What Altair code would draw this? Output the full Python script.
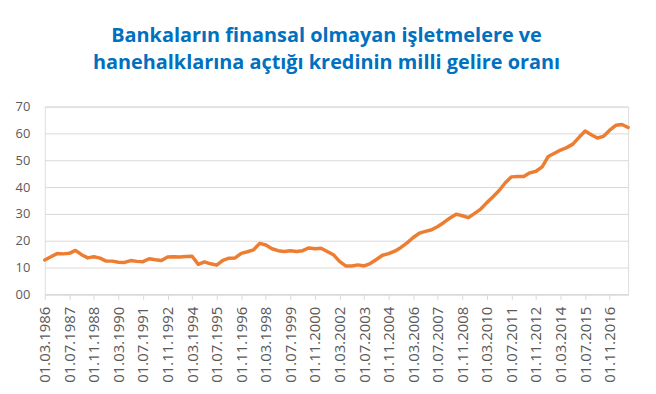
import altair as alt
import pandas as pd

# Quarterly-ish (every 4 months) observations, 01.03.1986 .. 01.11.2017
start_year = 1986
start_month = 3
step_months = 4

ratio = [
    12.8, 14.0, 15.2, 15.1, 15.3, 16.4, 14.8, 13.6, 14.0, 13.5,
    12.4, 12.4, 12.0, 11.9, 12.6, 12.3, 12.2, 13.3, 12.9, 12.6,
    13.9, 14.0, 13.9, 14.1, 14.2, 11.2, 12.1, 11.4, 10.9, 12.7,
    13.5, 13.6, 15.3, 15.9, 16.6, 19.0, 18.4, 17.0, 16.3, 16.0,
    16.3, 16.0, 16.3, 17.3, 17.0, 17.2, 16.0, 14.8, 12.3, 10.6,
    10.6, 11.0, 10.6, 11.5, 13.0, 14.6, 15.2, 16.1, 17.5, 19.2,
    21.2, 22.8, 23.5, 24.1, 25.3, 26.8, 28.5, 29.9, 29.3, 28.6,
    30.2, 31.8, 34.2, 36.4, 38.7, 41.6, 43.8, 43.9, 43.9, 45.3,
    45.9, 47.5, 51.4, 52.6, 53.8, 54.7, 56.0, 58.5, 60.9, 59.5,
    58.3, 58.9, 61.2, 63.0, 63.3, 62.2,
]

dates = []
for i in range(len(ratio)):
    m = start_month - 1 + step_months * i
    dates.append(f"01.{m % 12 + 1:02d}.{start_year + m // 12}")

tick_labels = dates[::4]
y_ticks = [0, 10, 20, 30, 40, 50, 60, 70]

title_lines = [
    "Bankaların finansal olmayan işletmelere ve",
    "hanehalklarına açtığı kredinin milli gelire oranı",
]

df = pd.DataFrame({"tarih": dates, "oran": ratio})

grey_txt = "#595959"
grid = "#d9d9d9"
font = "Open Sans"

chart = (
    alt.Chart(df)
    .mark_line(color="#ED7D31", strokeWidth=3.5, strokeJoin="round", strokeCap="round")
    .encode(
        x=alt.X(
            "tarih:O",
            sort=dates,
            scale=alt.Scale(type="point", padding=0),
            axis=alt.Axis(
                values=tick_labels,
                title=None,
                labelAngle=270,
                labelFontSize=15,
                labelColor=grey_txt,
                labelFont=font,
                labelPadding=7,
                tickSize=5,
                tickColor=grid,
                domainColor=grid,
                grid=False,
                labelOverlap=False,
            ),
        ),
        y=alt.Y(
            "oran:Q",
            scale=alt.Scale(domain=[0, 70], nice=False, zero=True),
            axis=alt.Axis(
                values=y_ticks,
                format="02d",
                title=None,
                ticks=False,
                domain=False,
                labelPadding=15,
                labelFontSize=13,
                labelColor=grey_txt,
                labelFont=font,
                gridColor=grid,
                gridWidth=1,
            ),
        ),
    )
    .properties(
        width=587,
        height=189,
        padding={"left": 37, "top": 98, "right": 20, "bottom": 90},
        autosize=alt.AutoSizeParams(type="none"),
        title=alt.TitleParams(
            text=title_lines,
            font=font,
            fontSize=20,
            fontWeight="bold",
            color="#0070C0",
            anchor="middle",
            dx=-10,
            offset=28,
            lineHeight=27,
        ),
    )
    .configure_view(stroke=None)
    .configure(background="white")
)

chart.save("out.html", embed_options={"renderer": "svg", "actions": False})
